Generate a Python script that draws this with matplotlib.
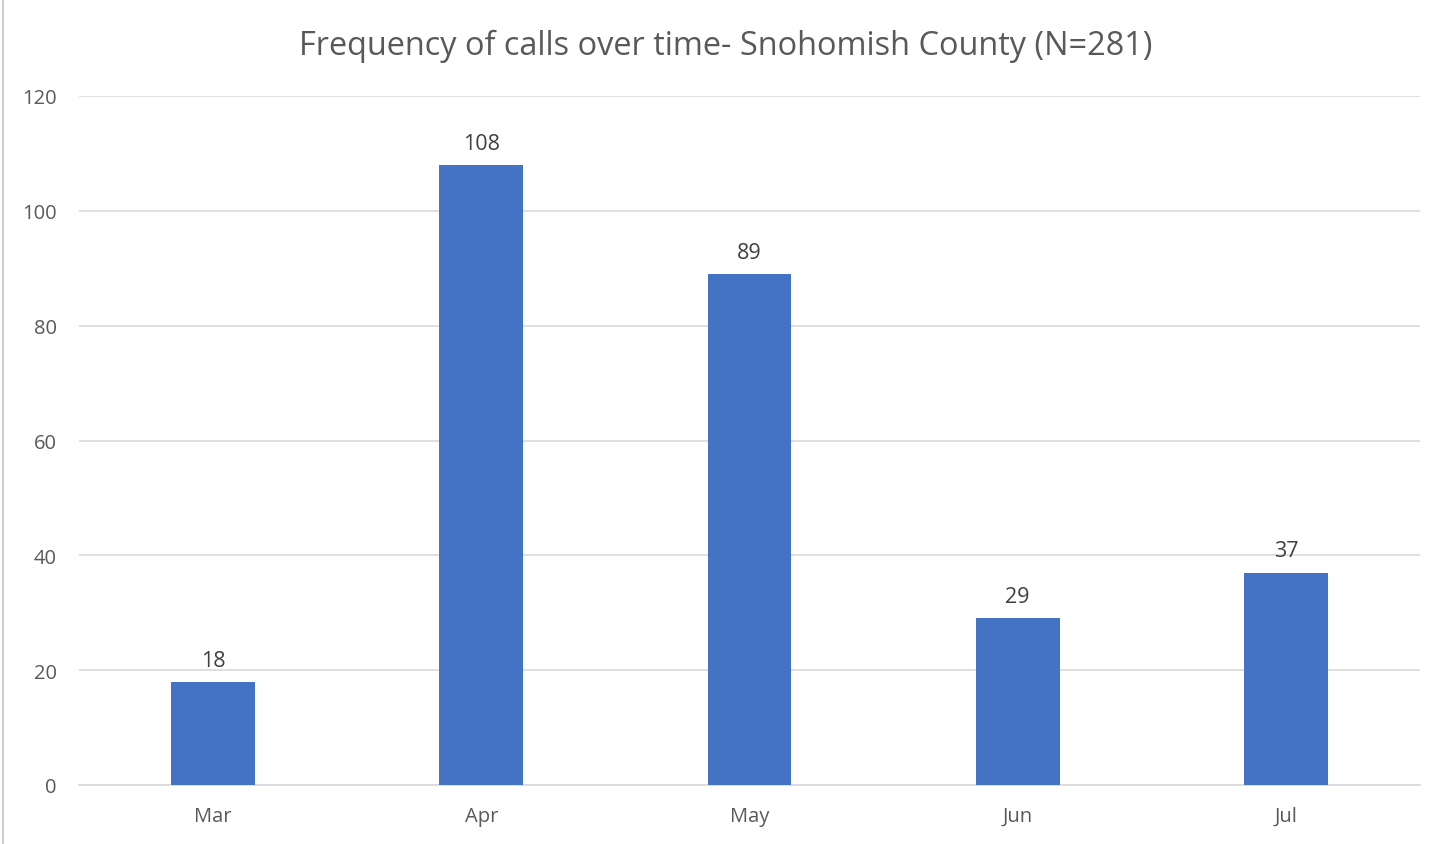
import matplotlib
matplotlib.use("Agg")
from matplotlib import pyplot as plt
from matplotlib.lines import Line2D

months = ["Mar", "Apr", "May", "Jun", "Jul"]
calls = [18, 108, 89, 29, 37]
y_ticks = [0, 20, 40, 60, 80, 100, 120]

bar_color = "#4472C4"
text_color = "#595959"
grid_color = "#D9D9D9"

plt.rcParams['font.family'] = ['Open Sans', 'DejaVu Sans']

fig = plt.figure(figsize=(14.48, 8.45), dpi=100)
ax = fig.add_axes([79 / 1448, 1 - 786 / 845, (1420 - 79) / 1448, (786 - 97) / 845])

x = range(len(months))
bars = ax.bar(x, calls, width=0.313, color=bar_color, zorder=3)

for b, v in zip(bars, calls):
    ax.annotate(str(v), (b.get_x() + b.get_width() / 2, v),
                xytext=(0, 8), textcoords="offset points",
                ha="center", va="bottom", fontsize=15.5, color="#404040")

ax.set_xlim(-0.5, len(months) - 0.5)
ax.set_ylim(0, 120)
ax.set_yticks(y_ticks)
ax.set_xticks(list(x))
ax.set_xticklabels(months)
ax.tick_params(axis="both", length=0, labelsize=14.5, labelcolor=text_color)
ax.tick_params(axis="y", pad=16)
ax.tick_params(axis="x", pad=15)
ax.yaxis.grid(True, color=grid_color, linewidth=1.2, zorder=0)
for s in ["top", "right", "left"]:
    ax.spines[s].set_visible(False)
ax.spines["bottom"].set_color(grid_color)
ax.spines["bottom"].set_linewidth(1.2)

fig.text(726 / 1448, 1 - 46 / 845, "Frequency of calls over time- Snohomish County (N=281)",
         ha="center", va="center", fontsize=23.4, color=text_color)

# faint outer border on the left like the exported chart
fig.add_artist(Line2D([3 / 1448, 3 / 1448], [0, 1], transform=fig.transFigure,
                      color="#D0D0D0", linewidth=1.5))

fig.savefig("out.png", dpi=100)
